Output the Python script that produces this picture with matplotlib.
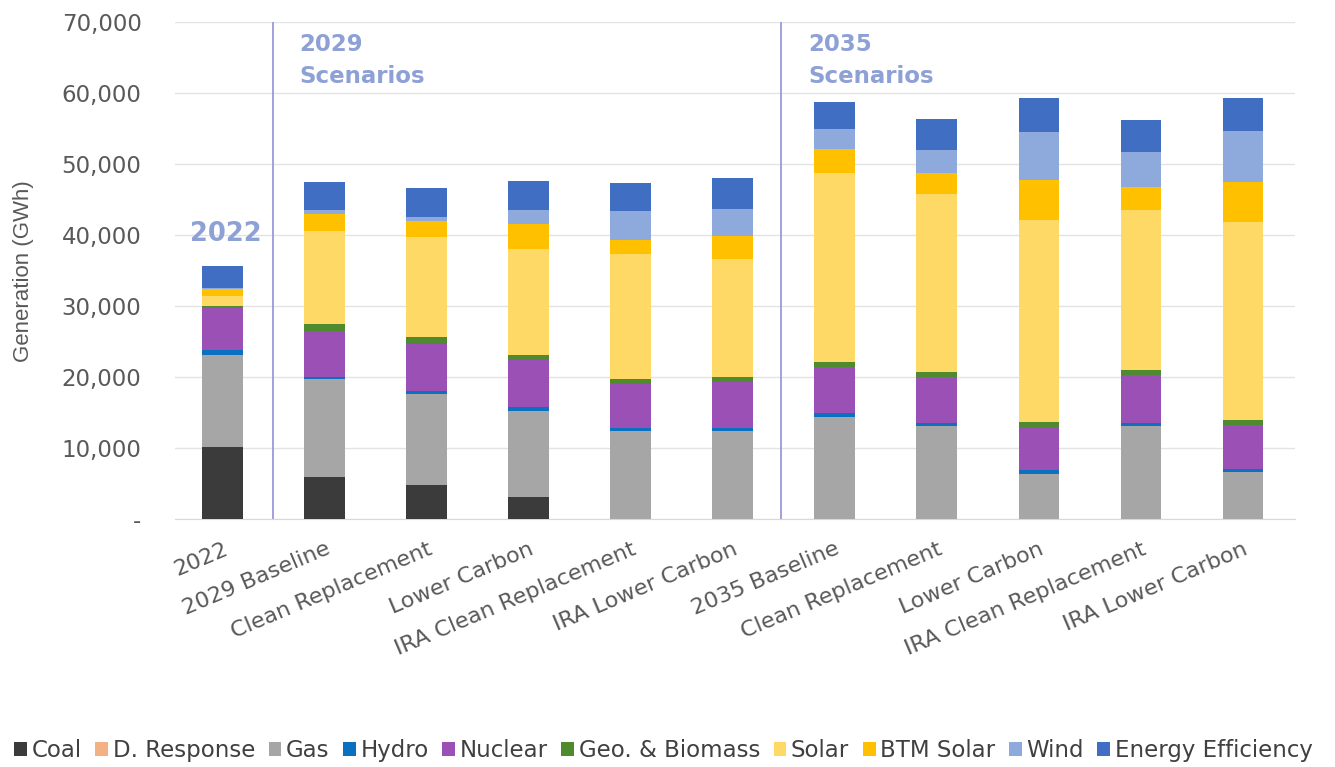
import matplotlib.pyplot as plt
import numpy as np

plt.rcParams['font.family'] = ['DejaVu Sans']

# Escenarios y fuentes de generación (GWh)
scenarios = ['2022', '2029 Baseline', 'Clean Replacement', 'Lower Carbon',
             'IRA Clean Replacement', 'IRA Lower Carbon', '2035 Baseline',
             'Clean Replacement', 'Lower Carbon', 'IRA Clean Replacement',
             'IRA Lower Carbon']
sources = ['Coal', 'D. Response', 'Gas', 'Hydro', 'Nuclear', 'Geo. & Biomass',
           'Solar', 'BTM Solar', 'Wind', 'Energy Efficiency']

coal = [10200, 6000, 4800, 3200, 0, 0, 0, 0, 0, 0, 0]
d_response = [0, 0, 0, 0, 0, 0, 0, 0, 0, 0, 0]
gas = [12900, 13700, 12900, 12100, 12500, 12500, 14400, 13200, 6400, 13100, 6600]
hydro = [700, 300, 400, 500, 300, 300, 500, 400, 500, 400, 500]
nuclear = [5900, 6500, 6600, 6600, 6300, 6500, 6500, 6500, 5900, 6800, 6200]
geo_biomass = [400, 1000, 900, 700, 700, 700, 800, 700, 900, 700, 700]
solar = [1400, 13100, 14200, 15000, 17600, 16700, 26500, 25000, 28400, 22500, 27800]
btm_solar = [1000, 2400, 2200, 3500, 1900, 3200, 3400, 3000, 5700, 3300, 5700]
wind = [100, 600, 600, 1900, 4100, 3800, 2900, 3200, 6700, 4900, 7200]
energy_eff = [3000, 3900, 4100, 4200, 4000, 4300, 3700, 4400, 4900, 4500, 4700]

series = [coal, d_response, gas, hydro, nuclear, geo_biomass,
          solar, btm_solar, wind, energy_eff]
colors = ['#3b3b3b', '#f4b183', '#a6a6a6', '#0a70c0', '#9b50b6', '#4f8a2e',
          '#ffd966', '#ffc000', '#8eaadc', '#3f6ec2']

fig = plt.figure(figsize=(13.35, 7.67), dpi=100)
ax = fig.add_axes([0.131, 0.323, 0.839, 0.648])

x = np.arange(len(scenarios))
bottom = np.zeros(len(scenarios))
for vals, col, name in zip(series, colors, sources):
    ax.bar(x, vals, width=0.4, bottom=bottom, color=col, label=name, zorder=3)
    bottom += np.array(vals)

ax.set_ylim(0, 70000)
ax.set_xlim(-0.47, 10.51)
ax.set_yticks(np.arange(0, 70001, 10000))
ax.set_yticklabels(['-'] + [f'{v:,}' for v in range(10000, 70001, 10000)],
                   fontsize=16.5, color='#595959')
ax.set_xticks(x)
ax.set_xticklabels(scenarios, rotation=23, ha='right', rotation_mode='anchor',
                   fontsize=16, color='#595959')
ax.tick_params(axis='y', length=0, pad=24)
ax.tick_params(axis='x', length=0, pad=14)
ax.set_ylabel('Generation (GWh)', fontsize=16, color='#595959', labelpad=20,
              family='Liberation Sans')

ax.grid(axis='y', color='#e3e3e3', linewidth=1, zorder=0)
for s in ['top', 'right', 'left']:
    ax.spines[s].set_visible(False)
ax.spines['bottom'].set_color('#d9d9d9')

# Separadores entre grupos de escenarios
for xv in [0.49, 5.47]:
    ax.axvline(xv, color='#9a9ad8', linewidth=1.3, zorder=2)

txt_col = '#8ea1d6'
ax.text(0.03, 40200, '2022', fontsize=18.5, fontweight='bold', color=txt_col,
        ha='center', va='center')
ax.text(0.75, 66900, '2029', fontsize=16.5, fontweight='bold', color=txt_col, va='center')
ax.text(0.75, 62300, 'Scenarios', fontsize=16.5, fontweight='bold', color=txt_col, va='center')
ax.text(5.74, 66900, '2035', fontsize=16.5, fontweight='bold', color=txt_col, va='center')
ax.text(5.74, 62300, 'Scenarios', fontsize=16.5, fontweight='bold', color=txt_col, va='center')

fig.legend(loc='lower center', bbox_to_anchor=(0.497, -0.02), ncol=10, frameon=False,
           fontsize=16.5, handlelength=0.55, handleheight=0.55, handletextpad=0.2,
           columnspacing=0.6, labelcolor='#404040')

plt.savefig('out.png', dpi=100)
